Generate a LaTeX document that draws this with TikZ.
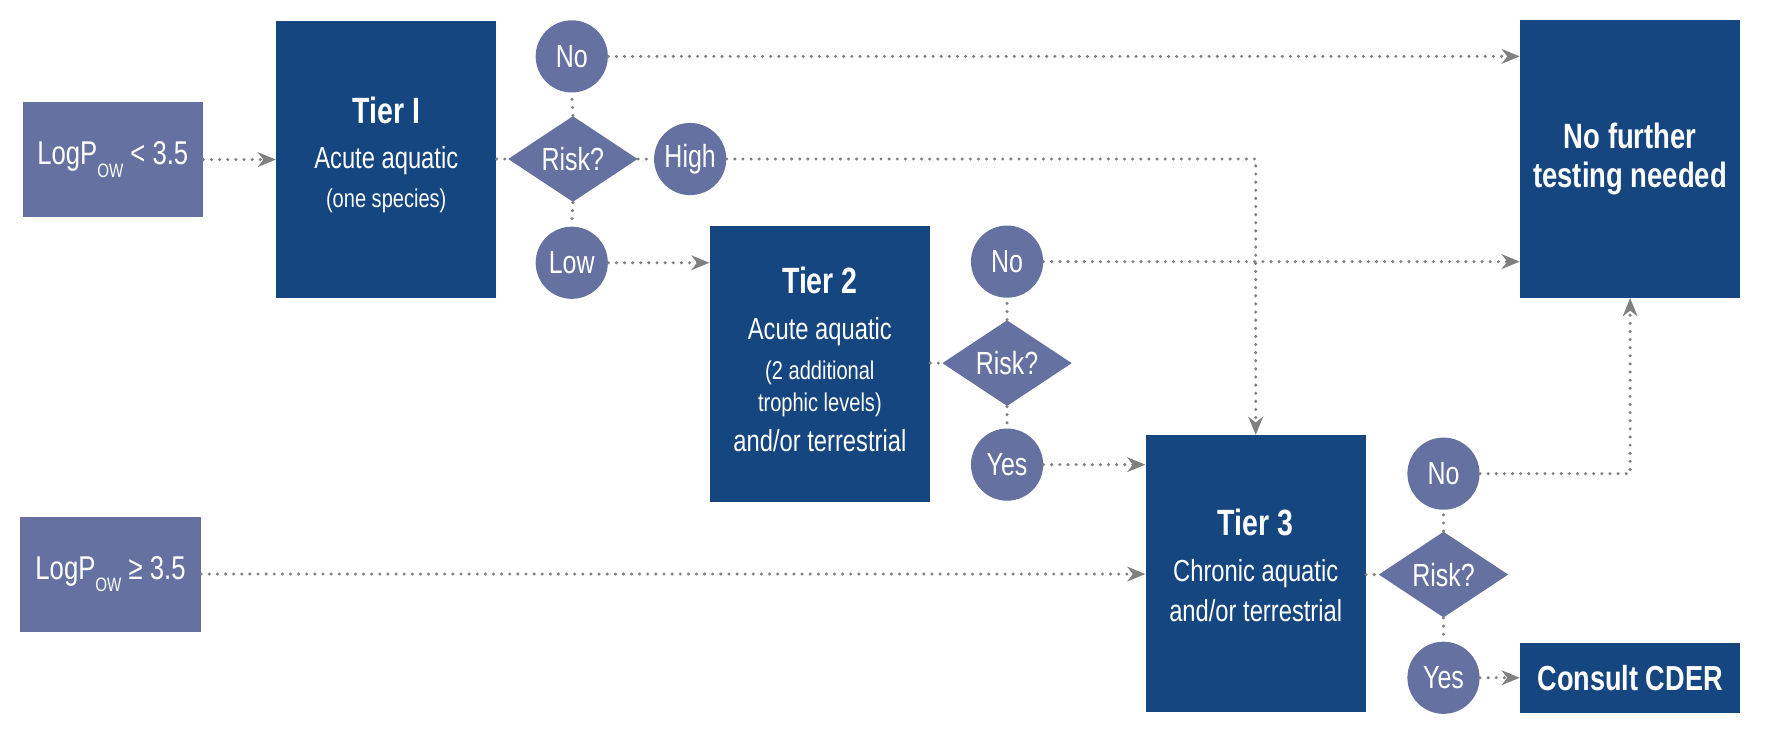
\documentclass[tikz,border=0pt]{standalone}
\usepackage{fontspec}
\setmainfont[FakeStretch=0.78]{Liberation Sans}
\usetikzlibrary{shapes.geometric,arrows.meta}
\definecolor{darkbox}{RGB}{22,70,128}
\definecolor{lightbox}{RGB}{101,114,161}
\definecolor{conn}{RGB}{128,128,128}
\newcommand\tierfont{\fontsize{16.2}{18}\selectfont\bfseries}
\newcommand\smallfnt{\fontsize{11.4}{14}\selectfont}
\newcommand\subfnt{\fontsize{8.6}{8.6}\selectfont}
\begin{document}
\begin{tikzpicture}[x=0.5pt,y=-0.5pt,
  dark/.style={fill=darkbox, text=white, inner sep=0pt, align=center,
    font=\fontsize{13.5}{17.5}\selectfont, minimum width=97.5pt, minimum height=122.5pt},
  light/.style={fill=lightbox, text=white, inner sep=0pt, align=center,
    font=\fontsize{14.6}{16}\selectfont, minimum width=80pt, minimum height=51pt},
  ans/.style={circle, fill=lightbox, text=white, minimum size=32pt, inner sep=0pt,
    font=\fontsize{14.2}{15}\selectfont},
  risk/.style={diamond, fill=lightbox, text=white, minimum width=57.5pt,
    minimum height=37.5pt, inner sep=0pt, font=\fontsize{14.2}{15}\selectfont},
  dots/.style={draw=conn, line width=1.5pt, line cap=round, dash pattern=on 0pt off 3.6pt},
  arr/.style={dots, -{Stealth[length=8pt,width=6.5pt,inset=2.5pt]}},
]
\useasboundingbox (0,0) rectangle (1566,655);

% boxes
\node[light] (boxA) at (100,141.5) {LogP\raisebox{-0.7ex}{\subfnt OW} {<} 3.5};
\node[light] (boxB) at (98,509) {LogP\raisebox{-0.7ex}{\subfnt OW} ≥ 3.5};
\node[dark] (t1) at (342.5,141.5) {{\tierfont Tier I}\\[2.5pt]Acute aquatic\\{\smallfnt (one species)}\\[-11pt]\mbox{}};
\node[dark] (t2) at (727,322.5) {{\tierfont Tier 2}\\[3pt]Acute aquatic\\{\smallfnt (2 additional}\\[-3pt]{\smallfnt trophic levels)}\\and/or terrestrial\\[-13.5pt]\mbox{}};
\node[dark] (t3) at (1113.5,508.5) {{\tierfont Tier 3}\\[3pt]Chronic aquatic\\and/or terrestrial\\[-10pt]\mbox{}};
\node[dark, font=\fontsize{15.6}{17}\selectfont\bfseries, minimum height=123pt] (nf) at (1445.5,141) {No further\\testing needed};
\node[dark, font=\fontsize{15.4}{17}\selectfont\bfseries, minimum height=31pt] (cd) at (1445.5,601) {Consult CDER};

% decision 1
\node[risk] (d1) at (508,141) {Risk?};
\node[ans] (no1) at (507,50) {No};
\node[ans] (hi1) at (612,141) {High};
\node[ans] (lo1) at (507,233) {Low};

% decision 2
\node[risk] (d2) at (893,322) {Risk?};
\node[ans] (no2) at (893,232) {No};
\node[ans] (ye2) at (893,412) {Yes};

% decision 3
\node[risk] (d3) at (1280,509.5) {Risk?};
\node[ans] (no3) at (1280,420) {No};
\node[ans] (ye3) at (1280,601) {Yes};

% connectors
\draw[arr] (boxA.east) -- (t1.west);
\draw[dots] (t1.east |- d1.west) -- (d1.west);
\draw[dots] (d1.north) -- (no1.south);
\draw[dots] (d1.south) -- (lo1.north);
\draw[dots] (d1.east) -- (hi1.west);
\draw[arr] (no1.east) -- (no1.east -| nf.west);
\draw[arr] (hi1.east) -| (t3.north);
\draw[arr] (lo1.east) -- (lo1.east -| t2.west);

\draw[dots] (t2.east |- d2.west) -- (d2.west);
\draw[dots] (d2.north) -- (no2.south);
\draw[dots] (d2.south) -- (ye2.north);
\draw[arr] (no2.east) -- (no2.east -| nf.west);
\draw[arr] (ye2.east) -- (ye2.east -| t3.west);

\draw[arr] (boxB.east) -- (boxB.east -| t3.west);
\draw[dots] (t3.east |- d3.west) -- (d3.west);
\draw[dots] (d3.north) -- (no3.south);
\draw[dots] (d3.south) -- (ye3.north);
\draw[arr] (no3.east) -| (nf.south);
\draw[arr] (ye3.east) -- (cd.west);
\end{tikzpicture}
\end{document}
